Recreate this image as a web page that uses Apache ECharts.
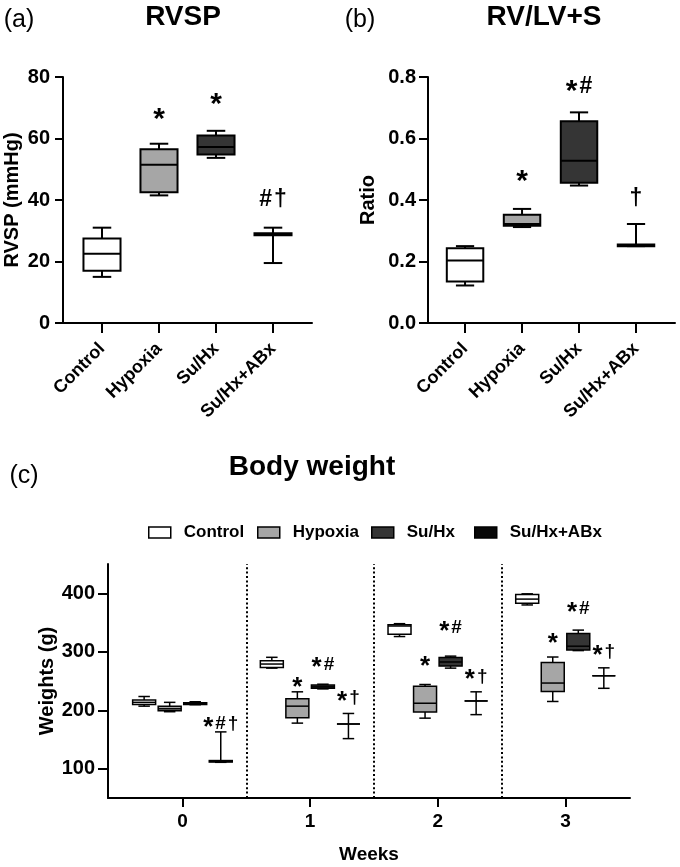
<!DOCTYPE html>
<html>
<head>
<meta charset="utf-8">
<script src="https://cdn.jsdelivr.net/npm/echarts@6/dist/echarts.min.js"></script>
<style>html,body{margin:0;padding:0;background:#fff}#c{width:680px;height:867px}</style>
</head>
<body>
<div id="c"></div>
<script>
// ---------- data ----------
const groups = ['Control', 'Hypoxia', 'Su/Hx', 'Su/Hx+ABx'];
const weeks = [0, 1, 2, 3];

// RVSP (mmHg): [min, q1, median, q3, max]
const rvspControl = [15, 17, 22.5, 27.5, 31];
const rvspHypoxia = [41.5, 42.5, 51.5, 56.5, 58.3];
const rvspSuHx = [53.7, 54.8, 57.2, 61, 62.5];
const rvspSuHxABx = [19.5, 28.5, 28.8, 29.2, 31];
const rvspMarks = ['', '*', '*', '#†'];
const rvspMarkY = [null, 67.6, 72.5, 40];
const rvspTicks = [0, 20, 40, 60, 80];

// RV/LV+S ratio: [min, q1, median, q3, max]
const ratioControl = [0.122, 0.135, 0.203, 0.243, 0.25];
const ratioHypoxia = [0.312, 0.316, 0.322, 0.352, 0.371];
const ratioSuHx = [0.447, 0.456, 0.528, 0.656, 0.685];
const ratioSuHxABx = [0.25, 0.25, 0.252, 0.255, 0.322];
const ratioMarks = ['', '*', '*#', '†'];
const ratioMarkY = [null, 0.476, 0.768, 0.405];
const ratioTicks = [0, 0.2, 0.4, 0.6, 0.8];

// Body weight (g) per week: [min, q1, median, q3, max]
const weightControl = [[207, 210, 213.5, 217.5, 223.5], [272, 273, 279, 284.5, 290.5], [326, 330, 344, 346, 348], [380, 383, 390, 398, 399]];
const weightHypoxia = [[197.5, 199, 202.5, 207, 213.5], [178, 187, 207, 219.5, 231.5], [186.5, 197, 212, 241, 244], [215, 232, 246.5, 281.5, 291]];
const weightSuHx = [[209.5, 210, 211.5, 213, 214.5], [236.5, 237.5, 240, 243, 244.5], [272, 275.5, 282.5, 290, 292.5], [302, 303, 309.5, 331, 337]];
const weightSuHxABx = [[111, 111.5, 112.5, 114, 163], [151.5, 176.5, 176.5, 176.5, 194.5], [192.5, 216, 216, 216, 231.5], [237.5, 259, 259, 259, 272.5]];
const weightMarksHypoxia = ['', '*', '*', '*'];
const weightMarkYHypoxia = [null, 245.7, 281.6, 320];
const weightMarksSuHx = ['', '*#', '*#', '*#'];
const weightMarkYSuHx = [null, 278.6, 340.6, 372.7];
const weightMarksSuHxABx = ['*#†', '*†', '*†', '*†'];
const weightMarkYSuHxABx = [177, 222, 258, 300];
const weightTicks = [100, 200, 300, 400];
const weekSeparators = [0.5, 1.5, 2.5];

// ---------- styling ----------
const FONT = "'Liberation Sans', Arial, Helvetica, sans-serif";
const fills = ['#ffffff', '#a6a6a6', '#353535', '#080808'];
const groupOffsets = [-0.3, -0.1, 0.1, 0.3];

function boxRenderer(boxW, lw, fillOf) {
  return function (params, api) {
    const x = api.value(0);
    const v = [api.value(1), api.value(2), api.value(3), api.value(4), api.value(5)];
    const fill = fillOf(params);
    const cx = api.coord([x, v[0]])[0];
    const y = v.map(d => api.coord([x, d])[1]);
    const half = api.size([boxW, 0])[0] / 2;
    const cap = half * 0.5;
    const ls = { stroke: '#000', lineWidth: lw };
    return {
      type: 'group',
      children: [
        { type: 'line', shape: { x1: cx, y1: y[4], x2: cx, y2: y[3] }, style: ls },
        { type: 'line', shape: { x1: cx, y1: y[1], x2: cx, y2: y[0] }, style: ls },
        { type: 'line', shape: { x1: cx - cap, y1: y[4], x2: cx + cap, y2: y[4] }, style: ls },
        { type: 'line', shape: { x1: cx - cap, y1: y[0], x2: cx + cap, y2: y[0] }, style: ls },
        { type: 'rect', shape: { x: cx - half, y: y[3], width: 2 * half, height: Math.max(0, y[1] - y[3]) }, style: { fill: fill, stroke: '#000', lineWidth: lw } },
        { type: 'line', shape: { x1: cx - half, y1: y[2], x2: cx + half, y2: y[2] }, style: ls }
      ]
    };
  };
}

function markRenderer(labels, starSize, otherSize) {
  return function (params, api) {
    const pt = api.coord([api.value(0), api.value(1)]);
    const txt = labels[params.dataIndex];
    let rich = '';
    for (const ch of txt) {
      rich += ch === '*' ? '{s|*}' : '{o|' + ch + '}';
    }
    return {
      type: 'text',
      x: pt[0], y: pt[1],
      style: {
        text: rich,
        align: 'center', verticalAlign: 'middle',
        fill: '#000',
        rich: {
          s: { fontSize: starSize, fontWeight: 'bold', fontFamily: FONT, padding: [Math.round(starSize * 0.32), 1, 0, 1] },
          o: { fontSize: otherSize, fontWeight: 'bold', fontFamily: FONT, padding: [0, 1, 0, 1] }
        }
      }
    };
  };
}

const rvspBoxes = [rvspControl, rvspHypoxia, rvspSuHx, rvspSuHxABx].map((b, i) => [i].concat(b));
const ratioBoxes = [ratioControl, ratioHypoxia, ratioSuHx, ratioSuHxABx].map((b, i) => [i].concat(b));
function marksData(texts, ys, offset) {
  const pts = [], labels = [];
  texts.forEach((t, i) => { if (t && ys[i] != null) { pts.push([weeks[i] + (offset || 0), ys[i]]); labels.push(t); } });
  return { pts, labels };
}
const weightSets = [weightControl, weightHypoxia, weightSuHx, weightSuHxABx];
const weightMarkSets = [[null, null], [weightMarksHypoxia, weightMarkYHypoxia], [weightMarksSuHx, weightMarkYSuHx], [weightMarksSuHxABx, weightMarkYSuHxABx]];

const axisLineStyle = { color: '#000', width: 2 };
const labelBase = { color: '#000', fontWeight: 'bold', fontFamily: FONT };

function catXAxis(gridIndex, min, max) {
  return {
    type: 'value', gridIndex, min, max,
    axisLine: { show: true, onZero: false, lineStyle: axisLineStyle },
    axisTick: { show: true, length: 10, lineStyle: axisLineStyle, customValues: [0, 1, 2, 3] },
    axisLabel: Object.assign({ fontSize: 18, rotate: 45, margin: 23, customValues: [0, 1, 2, 3], formatter: v => groups[Math.round(v)] }, labelBase),
    splitLine: { show: false }
  };
}
function valYAxis(gridIndex, min, max, name, nameGap, ticks, margin, tickLen, fmt) {
  const ax = {
    type: 'value', gridIndex, min, max,
    name, nameLocation: 'middle', nameGap, nameMoveOverlap: false,
    nameTextStyle: Object.assign({ fontSize: 20 }, labelBase),
    axisLine: { show: true, onZero: false, lineStyle: axisLineStyle },
    axisTick: { show: true, length: tickLen, lineStyle: axisLineStyle, customValues: ticks },
    axisLabel: Object.assign({ fontSize: 20, margin, customValues: ticks }, labelBase),
    splitLine: { show: false }
  };
  if (fmt) ax.axisLabel.formatter = fmt;
  return ax;
}

const series = [];
const rm = marksData(rvspMarks, rvspMarkY, 0);
const qm = marksData(ratioMarks, ratioMarkY, 0);
series.push({ type: 'custom', name: 'rvsp', xAxisIndex: 0, yAxisIndex: 0, renderItem: boxRenderer(0.65, 2, (p) => fills[p.dataIndex]), data: rvspBoxes, z: 2 });
series.push({ type: 'custom', name: 'rvspMarks', xAxisIndex: 0, yAxisIndex: 0, renderItem: markRenderer(rm.labels, 30, 23), data: rm.pts, z: 3 });
series.push({ type: 'custom', name: 'ratio', xAxisIndex: 1, yAxisIndex: 1, renderItem: boxRenderer(0.64, 2, (p) => fills[p.dataIndex]), data: ratioBoxes, z: 2 });
series.push({ type: 'custom', name: 'ratioMarks', xAxisIndex: 1, yAxisIndex: 1, renderItem: markRenderer(qm.labels, 30, 23), data: qm.pts, z: 3 });

weightSets.forEach((set, g) => {
  const s = {
    type: 'custom', name: groups[g], xAxisIndex: 2, yAxisIndex: 2,
    renderItem: boxRenderer(0.18, 1.5, () => fills[g]),
    data: set.map((b, w) => [weeks[w] + groupOffsets[g]].concat(b)),
    itemStyle: { color: fills[g], borderColor: '#000' },
    z: 2
  };
  if (g === 0) {
    s.markLine = {
      silent: true, symbol: 'none', label: { show: false },
      lineStyle: { color: '#000', width: 2, type: [2, 2.4] },
      data: weekSeparators.map(v => ({ xAxis: v }))
    };
  }
  series.push(s);
  const m = weightMarkSets[g];
  if (m[0]) {
    const wm = marksData(m[0], m[1], groupOffsets[g]);
    series.push({ type: 'custom', name: groups[g] + ' marks', xAxisIndex: 2, yAxisIndex: 2, renderItem: markRenderer(wm.labels, 26, 19), data: wm.pts, z: 3 });
  }
});

const legendLefts = [148, 257, 371, 474];
const legends = groups.map((g, i) => ({
  left: legendLefts[i], top: 524, padding: 0,
  selectedMode: false,
  icon: 'rect', itemWidth: 22, itemHeight: 11,
  textStyle: { fontSize: 17, fontWeight: 'bold', fontFamily: FONT, color: '#000', padding: [0, 0, 0, 8] },
  data: [{ name: g, itemStyle: { color: fills[i], borderColor: '#000', borderWidth: 1.5 } }]
}));

const option = {
  animation: false,
  backgroundColor: '#fff',
  legend: legends,
  grid: [
    { left: 63, top: 77, width: 249, height: 246, outerBoundsMode: 'none' },
    { left: 428, top: 77, width: 247, height: 246, outerBoundsMode: 'none' },
    { left: 108, top: 564, width: 522, height: 234, outerBoundsMode: 'none' }
  ],
  xAxis: [
    catXAxis(0, -0.684, 3.684),
    catXAxis(1, -0.65, 3.684),
    {
      type: 'value', gridIndex: 2, min: -0.583, max: 3.505,
      name: 'Weeks', nameLocation: 'middle', nameGap: 47, nameMoveOverlap: false,
      nameTextStyle: Object.assign({ fontSize: 19 }, labelBase),
      axisLine: { show: true, onZero: false, lineStyle: axisLineStyle },
      axisTick: { show: true, length: 9, lineStyle: axisLineStyle, customValues: weeks },
      axisLabel: Object.assign({ fontSize: 19, margin: 14, customValues: weeks, formatter: v => String(Math.round(v)) }, labelBase),
      splitLine: { show: false }
    }
  ],
  yAxis: [
    valYAxis(0, 0, 80, 'RVSP (mmHg)', 41, rvspTicks, 13, 8),
    valYAxis(1, 0, 0.8, 'Ratio', 50, ratioTicks, 12, 9, v => v.toFixed(1)),
    valYAxis(2, 50, 450, 'Weights (g)', 51, weightTicks, 13, 10)
  ],
  graphic: [
    { type: 'text', x: 19, y: 20, style: { text: '(a)', font: "25px " + FONT, fill: '#000', align: 'center', verticalAlign: 'middle' } },
    { type: 'text', x: 183, y: 17, style: { text: 'RVSP', font: "bold 28px " + FONT, fill: '#000', align: 'center', verticalAlign: 'middle' } },
    { type: 'text', x: 360, y: 20, style: { text: '(b)', font: "25px " + FONT, fill: '#000', align: 'center', verticalAlign: 'middle' } },
    { type: 'text', x: 544, y: 17, style: { text: 'RV/LV+S', font: "bold 28px " + FONT, fill: '#000', align: 'center', verticalAlign: 'middle' } },
    { type: 'text', x: 24, y: 476, style: { text: '(c)', font: "25px " + FONT, fill: '#000', align: 'center', verticalAlign: 'middle' } },
    { type: 'text', x: 312, y: 467, style: { text: 'Body weight', font: "bold 28px " + FONT, fill: '#000', align: 'center', verticalAlign: 'middle' } }
  ],
  series: series
};

const chart = echarts.init(document.getElementById('c'), null, { renderer: 'canvas' });
chart.setOption(option);
</script>
</body>
</html>
